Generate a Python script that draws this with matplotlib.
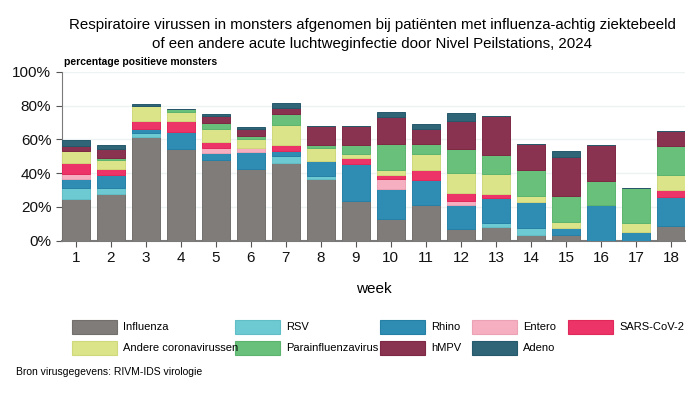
import numpy as np
import matplotlib
matplotlib.use("Agg")
import matplotlib.pyplot as plt
from matplotlib.patches import Rectangle

plt.rcParams['font.family'] = ['Liberation Sans', 'DejaVu Sans']

weeks = list(range(1, 19))
viruses = ['Influenza', 'RSV', 'Rhino', 'Entero', 'SARS-CoV-2',
           'Andere coronavirussen', 'Parainfluenzavirus', 'hMPV', 'Adeno']
colors = ['#7f7c79', '#6ecad2', '#2f8db3', '#f5afc0', '#ec3468',
          '#dce48a', '#68c07a', '#8a3350', '#2f6577']
edges = ['#726f6c', '#62bec6', '#2680a6', '#eba2b4', '#e0285b',
         '#d0d87c', '#5cb46e', '#7e2845', '#25596b']

# percentage positieve monsters per virus per week
influenza  = [24.6, 27.6, 61.2, 54.1, 47.6, 42.7, 46.3, 36.4, 23.6, 12.8, 20.9, 6.9, 8.1, 3.3, 3.5, 0.0, 0.0, 8.5]
rsv        = [6.5, 3.5, 2.6, 0.4, 0.0, 0.0, 3.7, 2.1, 0.0, 0.0, 0.0, 0.0, 2.3, 4.4, 0.0, 0.0, 0.0, 0.0]
rhino      = [5.3, 7.7, 2.3, 10.1, 4.6, 9.9, 3.0, 8.9, 22.1, 18.1, 14.9, 14.4, 14.8, 15.1, 4.0, 21.1, 5.3, 17.3]
entero     = [3.0, 0.0, 0.0, 0.0, 2.5, 2.5, 0.0, 0.0, 0.0, 5.7, 0.0, 2.1, 0.0, 0.0, 0.0, 0.0, 0.0, 0.0]
sars_cov_2 = [6.7, 3.5, 5.0, 6.5, 3.6, 0.0, 3.5, 0.0, 3.5, 2.4, 5.9, 4.7, 2.2, 0.0, 0.0, 0.0, 0.0, 4.1]
corona     = [6.9, 5.7, 8.6, 5.1, 8.0, 5.1, 12.0, 7.8, 2.0, 2.7, 9.5, 11.9, 12.0, 3.8, 3.7, 0.0, 5.1, 8.9]
parainfl   = [0.0, 0.8, 0.0, 1.9, 3.2, 2.0, 6.3, 1.8, 5.7, 15.8, 5.9, 14.3, 11.2, 15.1, 15.4, 14.1, 20.9, 17.1]
hmpv       = [3.1, 5.7, 0.0, 0.0, 4.5, 3.9, 3.7, 11.1, 11.2, 15.5, 9.0, 16.6, 23.4, 15.6, 23.0, 21.7, 0.0, 8.9]
adeno      = [3.3, 2.0, 1.4, 0.0, 1.2, 1.4, 2.8, 0.0, 0.0, 3.0, 3.2, 4.9, 0.0, 0.0, 3.7, 0.0, 0.0, 0.0]

series = [influenza, rsv, rhino, entero, sars_cov_2, corona, parainfl, hmpv, adeno]

fig = plt.figure(figsize=(6.98, 3.93), dpi=100)
ax = fig.add_axes([0.0884, 0.3875, 0.893, 0.4295])

bottom = np.zeros(len(weeks))
for vals, c, ec in zip(series, colors, edges):
    vals = np.array(vals)
    ax.bar(weeks, vals, bottom=bottom, width=0.81, color=c, edgecolor=ec,
           linewidth=0.7, zorder=3)
    bottom += vals

ax.set_xlim(0.6, 18.4)
ax.set_ylim(0, 100)
ax.set_yticks([0, 20, 40, 60, 80, 100])
ax.set_yticklabels(['0%', '20%', '40%', '60%', '80%', '100%'])
ax.set_xticks(weeks)
ax.grid(axis='y', color='#edf3f3', linewidth=1, zorder=0)
for s in ['top', 'right']:
    ax.spines[s].set_visible(False)
ax.spines['left'].set_color('#7a7a7a')
ax.spines['bottom'].set_color('#7a7a7a')
ax.spines['bottom'].set_linewidth(1.5)
ax.tick_params(axis='both', labelsize=11, color='#555555', length=4, labelcolor='#111111')
ax.set_xlabel('week', fontsize=11, labelpad=12)

fig.text(0.5335, 0.955, 'Respiratoire virussen in monsters afgenomen bij patiënten met influenza-achtig ziektebeeld\n'
         'of een andere acute luchtweginfectie door Nivel Peilstations, 2024',
         ha='center', va='top', fontsize=10.8, linespacing=1.45)
fig.text(0.092, 0.842, 'percentage positieve monsters', fontsize=7.5, fontweight='bold', va='center')

# legend, 2 rows x 5 columns
col_x = [72, 235, 380, 472, 568]
row_y = [327, 348]
for i, (name, c, ec) in enumerate(zip(viruses, colors, edges)):
    r, k = divmod(i, 5)
    x0 = col_x[k] / 698
    y0 = 1 - (row_y[r] + 7) / 393
    fig.patches.append(Rectangle((x0, y0), 45 / 698, 14 / 393, transform=fig.transFigure,
                                 facecolor=c, edgecolor=ec, linewidth=0.8))
    fig.text(x0 + 51 / 698, 1 - row_y[r] / 393, name, fontsize=8, va='center')

fig.text(0.023, 1 - 372 / 393, 'Bron virusgegevens: RIVM-IDS virologie', fontsize=7.5, va='center')

fig.savefig('out.png', dpi=100)
